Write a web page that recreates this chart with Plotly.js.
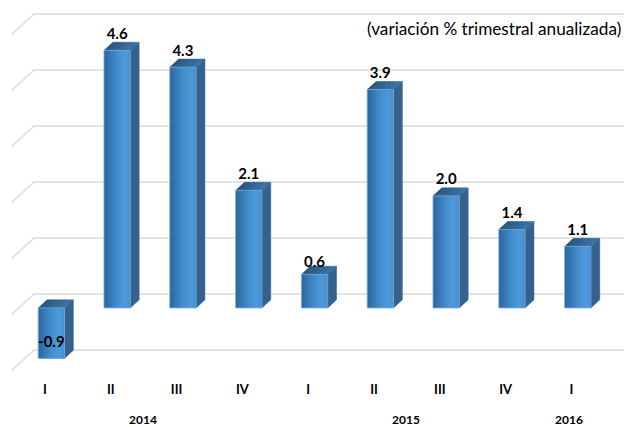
<!DOCTYPE html>
<html><head><meta charset="utf-8">
<script src="https://cdn.plot.ly/plotly-3.0.1.min.js"></script>
<style>html,body{margin:0;padding:0;background:#fff}#c{width:624px;height:427px}</style>
</head><body><div id="c"></div>
<script>
const quarterLabels = ['I','II','III','IV','I','II','III','IV','I'];
const values = [-0.9,4.6,4.3,2.1,0.6,3.9,2.0,1.4,1.1];
const valueText = ['-0.9','4.6','4.3','2.1','0.6','3.9','2.0','1.4','1.1'];
const years = ['2014','2015','2016'];
const yearPositions = [1.49,5.49,7.97];
const gridLevels = [-1,0,1,2,3,4,5];
const subtitle = '(variación % trimestral anualizada)';

const faceColors = ['#2e689f','#3070a8','#3476b1','#387cb9','#3c83c1','#408ac8','#458fce','#4893d3','#4b96d7','#4d98da','#4c96d8','#4892d2'];
const capColors = ['#28557f','#2a5a87','#2d5f8e','#306595','#336a9c','#366fa2'];
const sideColor = '#34628f';
const font = 'Lato,"Open Sans",sans-serif';

const idx = values.map((_,i)=>i);
const barOffset = 0.096, halfW = 0.2, depthX = 0.135, depthY = 0.145;
const xLeftEnd = -0.5167, xWall = -0.167, floorDrop = 0.375;

const traces = [];
const gx=[], gy=[];
gridLevels.forEach(g=>{ gx.push(xLeftEnd,xWall,8.8,null); gy.push(g-floorDrop,g,g,null); });
traces.push({type:'scatter',mode:'lines',x:gx,y:gy,yaxis:'y',line:{color:'#dcdcdc',width:1.6},hoverinfo:'skip',showlegend:false});

// front face: overlapping bars, each narrower from the left, make the horizontal shading
faceColors.forEach((c,k)=>{
  const step = 2*halfW/faceColors.length;
  traces.push({type:'bar',x:idx.map(i=>i+barOffset),y:values,yaxis:'y2',
    width:2*halfW-k*step,offset:-halfW+k*step,
    marker:{color:c,line:{width:0}},hoverinfo:'skip',showlegend:false});
});

const sx=[], sy=[];
idx.forEach(i=>{
  const r=i+barOffset+halfW, hi=Math.max(values[i],0), lo=Math.min(values[i],0);
  sx.push(r,r+depthX,r+depthX,r,r,null); sy.push(lo,lo+depthY,hi+depthY,hi,lo,null);
});
traces.push({type:'scatter',mode:'lines',x:sx,y:sy,yaxis:'y2',fill:'toself',fillcolor:sideColor,line:{color:sideColor,width:0.5},hoverinfo:'skip',showlegend:false});

capColors.forEach((c,k)=>{
  const n=capColors.length, px=[], py=[];
  idx.forEach(i=>{
    const l=i+barOffset-halfW, w=2*halfW/n, hi=Math.max(values[i],0);
    const a=l+k*w, b=a+w;
    px.push(a,b,b+depthX,a+depthX,a,null); py.push(hi,hi,hi+depthY,hi+depthY,hi,null);
  });
  traces.push({type:'scatter',mode:'lines',x:px,y:py,yaxis:'y2',fill:'toself',fillcolor:c,line:{color:c,width:0.5},hoverinfo:'skip',showlegend:false});
});

const ex=[], ey=[];
idx.forEach(i=>{
  const l=i+barOffset-halfW, r=i+barOffset+halfW, hi=Math.max(values[i],0), lo=Math.min(values[i],0);
  ex.push(l,r,r,l,l,null); ey.push(lo,lo,hi,hi,lo,null);
});
traces.push({type:'scatter',mode:'lines',x:ex,y:ey,yaxis:'y2',line:{color:'rgba(125,178,228,0.8)',width:1},hoverinfo:'skip',showlegend:false});

const labelLift = i => (i===4 ? 0.2 : 0.275);
traces.push({type:'scatter',mode:'text',x:idx.map(i=>i+barOffset),y:values.map((v,i)=>v+labelLift(i)),yaxis:'y2',
  text:valueText,textposition:'middle center',textfont:{family:font,size:15,color:'#000',weight:700},hoverinfo:'skip',showlegend:false});

const layout = {
  width:624,height:427,margin:{l:11,r:0,t:0,b:47,pad:0},
  paper_bgcolor:'#fff',plot_bgcolor:'#fff',showlegend:false,
  barmode:'overlay',
  xaxis:{type:'linear',range:[xLeftEnd,8.799],tickmode:'array',tickvals:idx,ticktext:quarterLabels,
    showgrid:false,zeroline:false,showline:false,ticks:'',
    tickfont:{family:font,size:13,color:'#000',weight:700}},
  yaxis:{range:[-1.536,5.25],visible:false,showgrid:false,zeroline:false},
  yaxis2:{range:[-1.286,5.5],overlaying:'y',visible:false,showgrid:false,zeroline:false},
  annotations:[
    ...years.map((t,i)=>({text:t,x:yearPositions[i],xref:'x',y:0,yref:'paper',yanchor:'middle',yshift:-39.5,xanchor:'center',showarrow:false,borderpad:0,
      font:{family:font,size:12,color:'#000',weight:700}})),
    {text:subtitle,xref:'paper',yref:'paper',x:1,xanchor:'right',xshift:-1,y:1,yanchor:'middle',yshift:-28,showarrow:false,
      font:{family:font,size:17.2,color:'#000'}}
  ]
};
Plotly.newPlot('c',traces,layout,{displayModeBar:false,staticPlot:true});
</script></body></html>
